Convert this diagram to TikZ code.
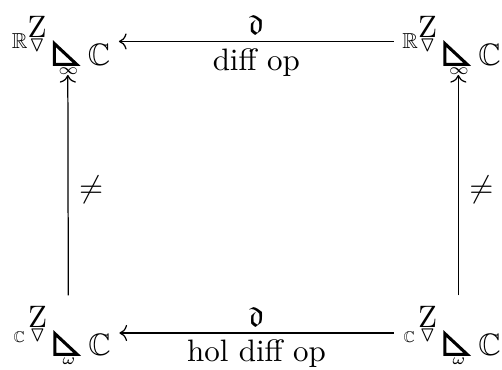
\documentclass[tikz,border=0pt]{standalone}
\usepackage{amsmath,amssymb}
\usetikzlibrary{arrows.meta}
% right triangle glyph, drawn
\newcommand{\rtri}{\tikz[baseline=0pt]\draw[line width=1pt,line join=miter] (0.5pt,6.9pt) -- (0.5pt,0.2pt) -- (7.7pt,0.2pt) -- cycle;}
% #1 prefix field, #2 its raise, #3 subscript under the triangle
\newcommand{\stalk}[3]{%
  \makebox[5.34pt][l]{\raisebox{#2}{$#1$}}%
  \makebox[5.6pt]{\makebox[0pt]{\raisebox{9pt}{$\mathrm{Z}$}}\makebox[0pt]{\raisebox{4.5pt}{$\scriptstyle\triangledown$}}}\kern2.3pt
  \rtri\llap{\makebox[6.4pt]{\raisebox{-3pt}{$\scriptscriptstyle#3$}}}\kern3.1pt
  $\mathbb{C}$}
\tikzset{
  obj/.style={inner sep=0pt,anchor=base},
  map/.style={-{To},line width=0.4pt},
  lab/.style={inner sep=2pt},
}
\begin{document}
\begin{tikzpicture}[x=0.3226pt,y=-0.3226pt]
  \useasboundingbox (0,0) rectangle (502,369);
  \node[obj] (realL) at (61,65) {\stalk{\scriptstyle\mathbb{R}}{5.3pt}{\infty}};
  \node[obj] (realR) at (451.5,65) {\stalk{\scriptstyle\mathbb{R}}{5.3pt}{\infty}};
  \node[obj] (holL) at (61.5,355) {\stalk{\kern0.4pt\scriptscriptstyle\mathbb{C}}{4.2pt}{\omega}};
  \node[obj] (holR) at (451.5,355) {\stalk{\kern0.4pt\scriptscriptstyle\mathbb{C}}{4.2pt}{\omega}};

  \draw[map,shorten <=2.6pt,shorten >=2.6pt] ([yshift=7.6pt]realR.base west) -- ([yshift=7.6pt]realL.base east)
    node[lab,midway,above] {$\mathfrak{d}$} node[lab,midway,below] {diff op};
  \draw[map,shorten <=2.6pt,shorten >=2.6pt] ([yshift=7.1pt]holR.base west) -- ([yshift=7.1pt]holL.base east)
    node[lab,midway,above] {$\mathfrak{d}$} node[lab,midway,below] {hol diff op};
  \draw[map,shorten <=3.2pt] ([xshift=2.2pt]holL.north) -- ([xshift=2.2pt]realL.south)
    node[midway,right] {$\neq$};
  \draw[map,shorten <=3.2pt] ([xshift=2.2pt]holR.north) -- ([xshift=2.2pt]realR.south)
    node[midway,right] {$\neq$};
\end{tikzpicture}
\end{document}
